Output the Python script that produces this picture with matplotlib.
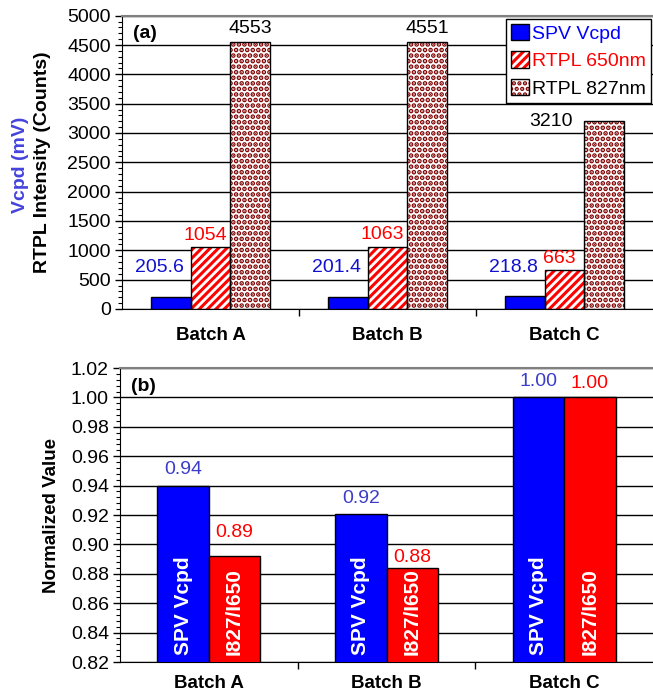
import numpy as np
import matplotlib
matplotlib.use('Agg')
import matplotlib.pyplot as plt
from matplotlib.patches import Patch
from matplotlib.legend_handler import HandlerTuple
from matplotlib.ticker import MultipleLocator, FixedLocator, NullFormatter

plt.rcParams['font.family'] = ['Liberation Sans', 'DejaVu Sans']
plt.rcParams['hatch.linewidth'] = 2.2

# data
batches = ['Batch A', 'Batch B', 'Batch C']
spv_vcpd = [205.6, 201.4, 218.8]
rtpl_650 = [1054, 1063, 663]
rtpl_827 = [4553, 4551, 3210]

norm_spv = [0.94, 0.9205, 1.00]
norm_ratio = [0.892, 0.884, 1.00]

BLUE = '#0000ff'
RED = '#ff0000'
BROWN = '#800000'
H_RED = '////'
H_BROWN = '...'
DOT_LW = 2.4

fig = plt.figure(figsize=(6.53, 6.94), dpi=100)
x = np.arange(len(batches))

def style_axes(ax):
    ax.set_xlim(-0.5, 2.5)
    ax.xaxis.set_major_locator(FixedLocator([0.5, 1.5]))
    ax.xaxis.set_major_formatter(NullFormatter())
    ax.xaxis.set_minor_locator(FixedLocator(x))
    ax.set_xticklabels(batches, minor=True, fontsize=13.5, fontweight='bold')
    ax.tick_params(axis='x', which='major', direction='out', length=5, width=1)
    ax.tick_params(axis='y', which='major', direction='out', length=5, width=1, labelsize=14, pad=3)
    ax.tick_params(axis='y', which='minor', direction='out', length=3, width=0.8)
    ax.grid(axis='y', which='major', color='black', lw=1)
    ax.set_axisbelow(True)
    ax.spines['right'].set_visible(False)
    ax.spines['top'].set_color('#808080')
    ax.spines['top'].set_linewidth(1.5)

def hatched_bar(ax, xs, hs, w, hatch, hcolor):
    ax.bar(xs, hs, w, color='white', edgecolor=hcolor, lw=0, hatch=hatch, zorder=2)
    ax.bar(xs, hs, w, fill=False, edgecolor='black', lw=1, zorder=3)

# ---- (a) ----
ax1 = fig.add_axes([0.1868, 0.5548, 0.8132, 0.4226])
w1 = 0.225
ax1.bar(x - w1, spv_vcpd, w1, color=BLUE, edgecolor='black', lw=1, zorder=3)
hatched_bar(ax1, x, rtpl_650, w1, H_RED, RED)
with plt.rc_context({'hatch.linewidth': DOT_LW}):
    hatched_bar(ax1, x + w1, rtpl_827, w1, H_BROWN, BROWN)
ax1.set_ylim(0, 5000)
ax1.yaxis.set_major_locator(MultipleLocator(500))
ax1.yaxis.set_minor_locator(MultipleLocator(100))
style_axes(ax1)
ax1.tick_params(axis='x', which='minor', length=0, pad=13)

for i in range(len(batches)):
    ax1.text(x[i] - w1 - 0.065, 700, f'{spv_vcpd[i]:.1f}', color='#1010d0',
             fontsize=14, ha='center', va='center')
    ax1.text(x[i] - 0.03, rtpl_650[i] + 200, f'{rtpl_650[i]}', color=RED,
             fontsize=14, ha='center', va='center')
    if i < 2:
        ax1.text(x[i] + w1, rtpl_827[i] + 235, f'{rtpl_827[i]}', color='black',
                 fontsize=14, ha='center', va='center')
    else:
        ax1.text(x[i] + w1 - 0.3, rtpl_827[i] - 10, f'{rtpl_827[i]}', color='black',
                 fontsize=14, ha='center', va='center')

ax1.text(0.02, 0.968, '(a)', transform=ax1.transAxes, fontsize=14,
         fontweight='bold', va='top', ha='left')

h_blue = Patch(facecolor=BLUE, edgecolor='black', lw=1)
h_red = (Patch(facecolor='white', edgecolor=RED, lw=0, hatch=H_RED),
         Patch(fill=False, edgecolor='black', lw=1))
with plt.rc_context({'hatch.linewidth': DOT_LW}):
    h_brown = (Patch(facecolor='white', edgecolor=BROWN, lw=0, hatch=H_BROWN),
               Patch(fill=False, edgecolor='black', lw=1))
leg = ax1.legend([h_blue, h_red, h_brown], ['SPV Vcpd', 'RTPL 650nm', 'RTPL 827nm'],
                 handler_map={tuple: HandlerTuple(ndivide=1, pad=0)},
                 loc='upper right', bbox_to_anchor=(1.0, 0.995), fontsize=14,
                 frameon=True, fancybox=False, edgecolor='black', framealpha=1,
                 handlelength=0.95, handleheight=0.9, handletextpad=0.15,
                 borderpad=0.25, labelspacing=0.45, borderaxespad=0.1)
leg.get_frame().set_linewidth(1)
for t, c in zip(leg.get_texts(), [BLUE, RED, 'black']):
    t.set_color(c)

fig.text(0.031, 0.763, 'Vcpd (mV)', rotation=90, color='#4444dd', fontsize=14,
         fontweight='bold', ha='center', va='center')
fig.text(0.065, 0.766, 'RTPL Intensity (Counts)', rotation=90, color='black',
         fontsize=14, fontweight='bold', ha='center', va='center')

# ---- (b) ----
ax2 = fig.add_axes([0.1838, 0.0461, 0.8162, 0.4236])
w2 = 0.29
ax2.bar(x - w2 / 2, norm_spv, w2, color=BLUE, edgecolor='black', lw=1, zorder=3)
ax2.bar(x + w2 / 2, norm_ratio, w2, color=RED, edgecolor='black', lw=1, zorder=3)
ax2.set_ylim(0.82, 1.02)
ax2.yaxis.set_major_locator(MultipleLocator(0.02))
ax2.yaxis.set_minor_locator(MultipleLocator(0.004))
ax2.yaxis.set_major_formatter(plt.FormatStrFormatter('%.2f'))
style_axes(ax2)
ax2.tick_params(axis='x', which='minor', length=0, pad=9)

red_lab_dy = [0.016, 0.007, 0.0098]
for i in range(len(batches)):
    ax2.text(x[i] - w2 / 2, norm_spv[i] + 0.011, f'{norm_spv[i]:.2f}', color='#3c3cc8',
             fontsize=14, ha='center', va='center', zorder=4)
    ax2.text(x[i] + w2 / 2, norm_ratio[i] + red_lab_dy[i], f'{norm_ratio[i]:.2f}', color=RED,
             fontsize=14, ha='center', va='center', zorder=4)
    ax2.text(x[i] - w2 / 2, 0.8245, 'SPV Vcpd', rotation=90, color='white', fontsize=15,
             fontweight='bold', ha='center', va='bottom', zorder=4)
    ax2.text(x[i] + w2 / 2, 0.8245, 'I827/I650', rotation=90, color='white', fontsize=15,
             fontweight='bold', ha='center', va='bottom', zorder=4)

ax2.text(0.02, 0.966, '(b)', transform=ax2.transAxes, fontsize=14,
         fontweight='bold', va='top', ha='left')
ax2.set_ylabel('Normalized Value', fontsize=13.5, fontweight='bold', labelpad=8)

fig.savefig('out.png', dpi=100)
